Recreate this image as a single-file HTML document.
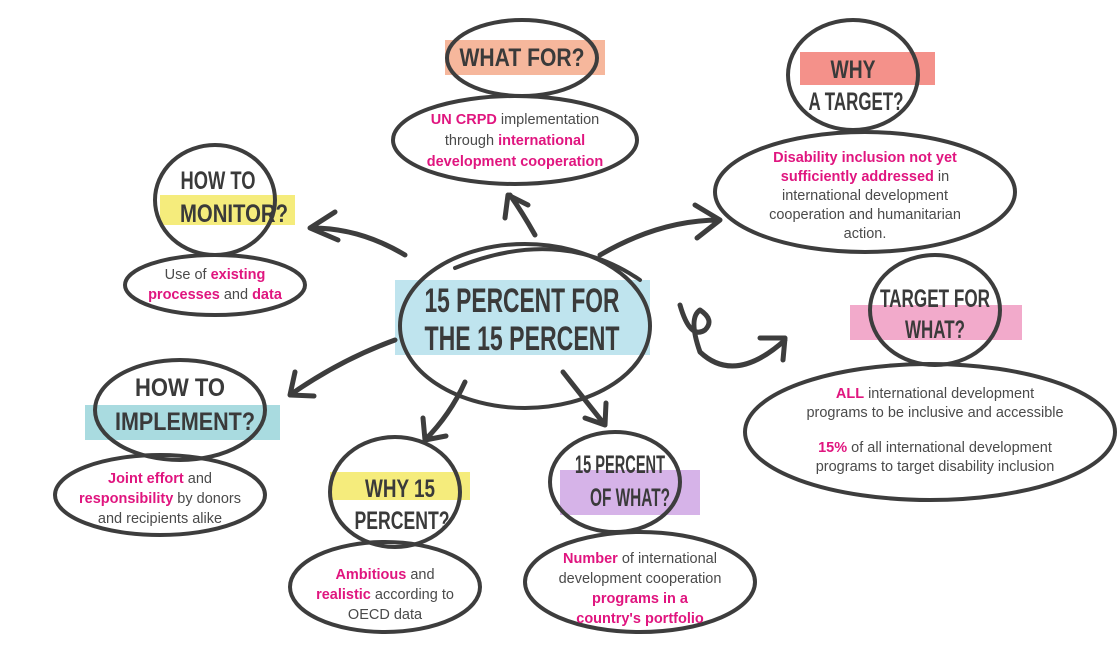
<!DOCTYPE html>
<html><head><meta charset="utf-8"><style>
html,body{margin:0;padding:0;background:#fff;width:1120px;height:650px;overflow:hidden}
svg{display:block}
.h{font-family:"Liberation Sans",sans-serif;font-weight:bold;fill:#3a3a3a;text-anchor:middle}
.t{font-family:"Liberation Sans",sans-serif;font-size:14.5px;fill:#4a4a4a;text-anchor:middle}
.m{fill:#e0157f;font-weight:bold}
.e{fill:none;stroke:#3d3d3d;stroke-width:4;stroke-linecap:round}
.a{fill:none;stroke:#3d3d3d;stroke-width:5;stroke-linecap:round;stroke-linejoin:round}
</style></head><body>
<svg width="1120" height="650" viewBox="0 0 1120 650" xmlns="http://www.w3.org/2000/svg">
<rect x="395" y="280" width="255" height="75" fill="#bfe4ee"/>
<rect x="445" y="40" width="160" height="35" fill="#f6b79c"/>
<rect x="800" y="52" width="135" height="33" fill="#f4918a"/>
<rect x="160" y="195" width="135" height="30" fill="#f5ec7c"/>
<rect x="850" y="305" width="172" height="35" fill="#f2aacb"/>
<rect x="85" y="405" width="195" height="35" fill="#a9dbe0"/>
<rect x="330" y="472" width="140" height="28" fill="#f5ec7c"/>
<rect x="560" y="470" width="140" height="45" fill="#d6b3e8"/>

<ellipse class="e" cx="525" cy="326" rx="125" ry="82"/>
<path class="e" d="M455 268 Q560 225 640 280"/>
<ellipse class="e" cx="522" cy="58" rx="75" ry="38"/>
<ellipse class="e" cx="515" cy="140" rx="122" ry="44"/>
<ellipse class="e" cx="853" cy="75" rx="65" ry="55"/>
<ellipse class="e" cx="865" cy="192" rx="150" ry="60"/>
<ellipse class="e" cx="215" cy="200" rx="60" ry="55"/>
<ellipse class="e" cx="215" cy="285" rx="90" ry="30"/>
<ellipse class="e" cx="935" cy="310" rx="65" ry="55"/>
<ellipse class="e" cx="930" cy="432" rx="185" ry="68"/>
<ellipse class="e" cx="180" cy="410" rx="85" ry="50"/>
<ellipse class="e" cx="160" cy="495" rx="105" ry="40"/>
<ellipse class="e" cx="395" cy="492" rx="65" ry="55"/>
<ellipse class="e" cx="385" cy="587" rx="95" ry="45"/>
<ellipse class="e" cx="615" cy="482" rx="65" ry="50"/>
<ellipse class="e" cx="640" cy="582" rx="115" ry="50"/>

<path class="a" d="M405 255 Q360 228 312 228 M335 212 L310 228 L338 240"/>
<path class="a" d="M535 235 Q522 212 510 195 M505 218 L508 195 L528 205"/>
<path class="a" d="M600 255 Q660 220 720 220 M695 205 L720 220 L697 238"/>
<path class="a" d="M680 305 Q690 340 705 330 Q715 320 700 310 Q688 318 700 352 Q735 385 785 340 M760 338 L785 338 L783 360"/>
<path class="a" d="M395 340 Q340 360 290 395 M295 372 L290 395 L314 396"/>
<path class="a" d="M465 382 Q450 415 425 440 M423 418 L425 440 L446 436"/>
<path class="a" d="M563 372 Q585 400 605 425 M585 418 L605 425 L606 403"/>

<text class="h" font-size="34" x="522" y="312" textLength="195" lengthAdjust="spacingAndGlyphs">15 PERCENT FOR</text>
<text class="h" font-size="34" x="522" y="350" textLength="195" lengthAdjust="spacingAndGlyphs">THE 15 PERCENT</text>
<text class="h" font-size="25" x="522" y="66" textLength="125" lengthAdjust="spacingAndGlyphs">WHAT FOR?</text>
<text class="h" font-size="25" x="853" y="78" textLength="45" lengthAdjust="spacingAndGlyphs">WHY</text>
<text class="h" font-size="25" x="856" y="110" textLength="95" lengthAdjust="spacingAndGlyphs">A TARGET?</text>
<text class="h" font-size="25" x="218" y="189" textLength="75" lengthAdjust="spacingAndGlyphs">HOW TO</text>
<text class="h" font-size="25" x="234" y="222" textLength="108" lengthAdjust="spacingAndGlyphs">MONITOR?</text>
<text class="h" font-size="25" x="935" y="307" textLength="110" lengthAdjust="spacingAndGlyphs">TARGET FOR</text>
<text class="h" font-size="25" x="935" y="338" textLength="60" lengthAdjust="spacingAndGlyphs">WHAT?</text>
<text class="h" font-size="25" x="180" y="396" textLength="90" lengthAdjust="spacingAndGlyphs">HOW TO</text>
<text class="h" font-size="25" x="185" y="430" textLength="140" lengthAdjust="spacingAndGlyphs">IMPLEMENT?</text>
<text class="h" font-size="25" x="400" y="497" textLength="70" lengthAdjust="spacingAndGlyphs">WHY 15</text>
<text class="h" font-size="25" x="402" y="529" textLength="95" lengthAdjust="spacingAndGlyphs">PERCENT?</text>
<text class="h" font-size="25" x="620" y="473" textLength="90" lengthAdjust="spacingAndGlyphs">15 PERCENT</text>
<text class="h" font-size="25" x="630" y="506" textLength="80" lengthAdjust="spacingAndGlyphs">OF WHAT?</text>

<text class="t" x="515" y="124"><tspan class="m">UN CRPD</tspan> implementation</text>
<text class="t" x="515" y="145">through <tspan class="m">international</tspan></text>
<text class="t" x="515" y="166"><tspan class="m">development cooperation</tspan></text>

<text class="t" x="865" y="162"><tspan class="m">Disability inclusion not yet</tspan></text>
<text class="t" x="865" y="181"><tspan class="m">sufficiently addressed</tspan> in</text>
<text class="t" x="865" y="200">international development</text>
<text class="t" x="865" y="219">cooperation and humanitarian</text>
<text class="t" x="865" y="238">action.</text>

<text class="t" x="215" y="279">Use of <tspan class="m">existing</tspan></text>
<text class="t" x="215" y="299"><tspan class="m">processes</tspan> and <tspan class="m">data</tspan></text>

<text class="t" x="935" y="398"><tspan class="m">ALL</tspan> international development</text>
<text class="t" x="935" y="417">programs to be inclusive and accessible</text>
<text class="t" x="935" y="452"><tspan class="m">15%</tspan> of all international development</text>
<text class="t" x="935" y="471">programs to target disability inclusion</text>

<text class="t" x="160" y="483"><tspan class="m">Joint effort</tspan> and</text>
<text class="t" x="160" y="503"><tspan class="m">responsibility</tspan> by donors</text>
<text class="t" x="160" y="523">and recipients alike</text>

<text class="t" x="385" y="579"><tspan class="m">Ambitious</tspan> and</text>
<text class="t" x="385" y="599"><tspan class="m">realistic</tspan> according to</text>
<text class="t" x="385" y="619">OECD data</text>

<text class="t" x="640" y="563"><tspan class="m">Number</tspan> of international</text>
<text class="t" x="640" y="583">development cooperation</text>
<text class="t" x="640" y="603"><tspan class="m">programs in a</tspan></text>
<text class="t" x="640" y="623"><tspan class="m">country's portfolio</tspan></text>
</svg>
</body></html>
